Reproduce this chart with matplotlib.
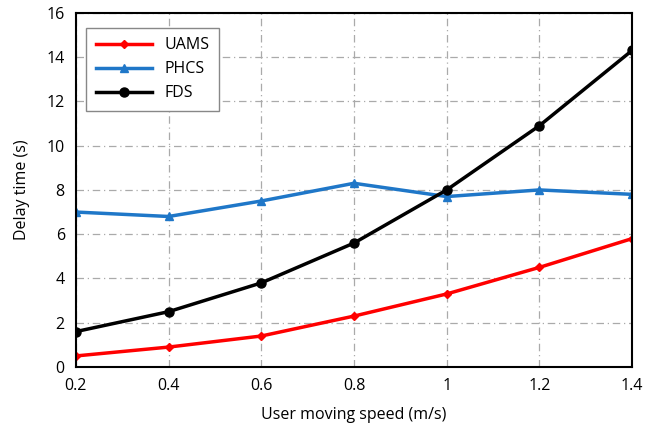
import numpy as np
import matplotlib.pyplot as plt

plt.rcParams['font.family'] = ['Open Sans', 'DejaVu Sans']

speed = [0.2, 0.4, 0.6, 0.8, 1.0, 1.2, 1.4]
uams = [0.5, 0.9, 1.4, 2.3, 3.3, 4.5, 5.8]
phcs = [7.0, 6.8, 7.5, 8.3, 7.7, 8.0, 7.8]
fds = [1.6, 2.5, 3.8, 5.6, 8.0, 10.9, 14.3]
xticks = [0.2, 0.4, 0.6, 0.8, 1.0, 1.2, 1.4]
xtick_labels = ['0.2', '0.4', '0.6', '0.8', '1', '1.2', '1.4']
yticks = [0, 2, 4, 6, 8, 10, 12, 14, 16]

fig = plt.figure(figsize=(6.66, 4.28), dpi=100)
ax = fig.add_axes([0.114, 0.1425, 0.835, 0.8275])

ax.plot(speed, uams, color='#ff0000', marker='D', markersize=4.5, linewidth=2.5, label='UAMS')
ax.plot(speed, phcs, color='#1f77c8', marker='^', markersize=6, linewidth=2.5, label='PHCS')
ax.plot(speed, fds, color='black', marker='o', markersize=6.5, linewidth=2.5, label='FDS')

ax.set_xlim(0.2, 1.4)
ax.set_ylim(0, 16)
ax.set_xticks(xticks)
ax.set_xticklabels(xtick_labels)
ax.set_yticks(yticks)
ax.tick_params(length=0, labelsize=11.5, pad=8)
ax.grid(True, linestyle=(0, (6, 3, 1, 3)), color='#aaaaaa', linewidth=0.9)
for s in ax.spines.values():
    s.set_linewidth(1.5)

ax.set_xlabel('User moving speed (m/s)', fontsize=11.5, labelpad=9)
ax.set_ylabel('Delay time (s)', fontsize=11.5, labelpad=12)

leg = ax.legend(loc='upper left', bbox_to_anchor=(0.004, 0.98), fontsize=11.5,
                fancybox=False, edgecolor='#888888', framealpha=1,
                handlelength=3.5, borderpad=0.6, labelspacing=0.5)
leg.get_frame().set_linewidth(1.0)

fig.savefig('out.png', dpi=100)
